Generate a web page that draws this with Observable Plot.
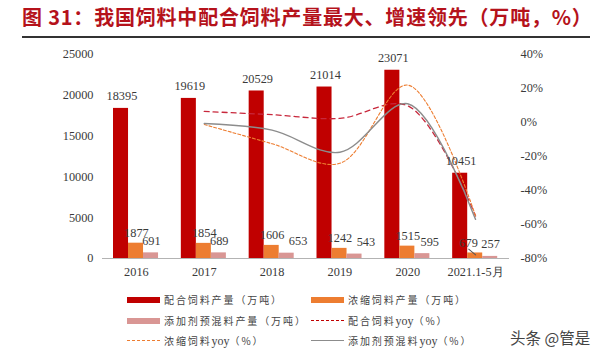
<!DOCTYPE html>
<html><head><meta charset="utf-8">
<script src="https://cdn.jsdelivr.net/npm/d3@7"></script>
<script src="https://cdn.jsdelivr.net/npm/@observablehq/plot@0.6"></script>
<style>
html,body{margin:0;background:#fff;width:600px;height:354px;overflow:hidden}
#title{position:absolute;left:22px;top:4px;font:bold 20px "Noto Sans CJK SC";color:#b5121b;white-space:nowrap;letter-spacing:.8px;line-height:25px}
#rule{position:absolute;left:22px;top:36px;width:568px;height:1.5px;background:#333}
#chart{position:absolute;left:0;top:0;width:600px;height:296px}
.lg{position:absolute;font:10px "Noto Sans CJK SC";color:#444;letter-spacing:1.9px;white-space:nowrap;line-height:14px}
.lg i{font:12px "Liberation Serif";letter-spacing:0}
.sw{position:absolute}
#wm{position:absolute;left:510px;top:327px;font:15.5px "Noto Sans CJK SC";color:#444;white-space:nowrap;line-height:20px}
</style></head><body>
<div id="chart"></div>
<div id="title">图 31：我国饲料中配合饲料产量最大、增速领先（万吨，%）</div>
<div id="rule"></div>
<div id="legend"></div>
<div id="wm">头条 @管是</div>
<script>
const years = ["2016","2017","2018","2019","2020","2021.1-5月"];
const compound = [18395,19619,20529,21014,23071,10451];
const concentrate = [1877,1854,1606,1242,1515,679];
const premix = [691,689,653,543,595,257];
const yoyYears = ["2017","2018","2019","2020","2021.1-5月"];
const compoundYoy = [6.5,4.6,2.4,9.8,-55];
const concentrateYoy = [-1.2,-12.5,-24,22,-55];
const premixYoy = [-0.6,-4.5,-17.5,11,-57];
const leftTicks = [0,5000,10000,15000,20000,25000];
const rightTicks = [-80,-60,-40,-20,0,20,40];
const red="#c00000", orange="#ed7d31", pink="#d99694", grey="#8c8c8c";
const toLeft = v => (v+80)/120*25000;
const rows = years.map((y,i)=>({y,a:compound[i],b:concentrate[i],c:premix[i]}));
const yoyRow = vals => yoyYears.map((y,i)=>({y,v:toLeft(vals[i])}));
const lab = {fontFamily:"Liberation Serif",fontSize:12.3,fill:"#3a3a3a"};
const stick = {draw(ctx,l){ctx.moveTo(0,0);ctx.lineTo(0,-l);}};
const last = years[5];
const plot = Plot.plot({
  width:600,height:296,marginTop:54,marginBottom:38,marginLeft:102,marginRight:91,
  style:{background:"transparent",fontFamily:"Liberation Serif",fontSize:"12.3px",color:"#3a3a3a"},
  x:{type:"band",domain:years,padding:0,round:false,label:null},
  y:{domain:[0,25000],label:null},
  marks:[
    Plot.barY(rows,{x:"y",y:"a",fill:red,insetLeft:11,insetRight:41.8}),
    Plot.barY(rows,{x:"y",y:"b",fill:orange,insetLeft:26,insetRight:26.8}),
    Plot.barY(rows,{x:"y",y:"c",fill:pink,insetLeft:41,insetRight:11.8}),
    Plot.ruleY([0],{stroke:"#b3b3b3",strokeWidth:1.2}),
    Plot.axisY({ticks:leftTicks,tickSize:0,tickPadding:9,tickFormat:d=>String(d),fontSize:12.3,fill:"#3a3a3a",label:null}),
    Plot.axisY({anchor:"right",ticks:rightTicks.map(toLeft),tickSize:0,tickPadding:11,textAnchor:"start",
      tickFormat:d=>Math.round(d/25000*120-80)+"%",fontSize:12.3,fill:"#3a3a3a",label:null}),
    Plot.axisX({tickSize:0,tickPadding:9,fontSize:12.3,fill:"#3a3a3a",label:null}),
    Plot.line(yoyRow(compoundYoy),{x:"y",y:"v",stroke:"#c8283c",strokeWidth:1.3,strokeDasharray:"5 4",curve:"catmull-rom"}),
    Plot.line(yoyRow(concentrateYoy),{x:"y",y:"v",stroke:orange,strokeWidth:1.1,strokeDasharray:"3 2",curve:"catmull-rom"}),
    Plot.line(yoyRow(premixYoy),{x:"y",y:"v",stroke:grey,strokeWidth:1.4,curve:"catmull-rom"}),
    Plot.text(rows,{x:"y",y:"a",text:d=>String(d.a),dx:-14.5,dy:-12,...lab}),
    Plot.text(rows.filter(d=>d.y!==last),{x:"y",y:"b",text:d=>String(d.b),dy:-10,...lab}),
    Plot.text(rows.slice(-1),{x:"y",y:"b",text:d=>String(d.b),dx:-7,dy:-10,...lab}),
    Plot.text(rows.filter(d=>["2016","2017",last].includes(d.y)),{x:"y",y:"c",text:d=>String(d.c),dx:15,dy:-12,...lab}),
    Plot.text(rows.filter(d=>["2018","2019"].includes(d.y)),{x:"y",y:"c",text:d=>String(d.c),dx:26,dy:-12,...lab}),
    Plot.text(rows.filter(d=>d.y==="2020"),{x:"y",y:"c",text:d=>String(d.c),dx:22,dy:-12,...lab}),
    Plot.vector(rows.slice(-1),{x:"y",y:"b",length:9,rotate:-50,anchor:"start",shape:stick,dy:2,stroke:"#555",strokeWidth:1})
  ]
});
document.getElementById("chart").appendChild(plot);
const entries=[
 ["配合饲料产量（万吨）","bar",red,0,0],
 ["浓缩饲料产量（万吨）","bar",orange,1,0],
 ["添加剂预混料产量（万吨）","bar",pink,0,1],
 ["配合饲料<i>yoy</i>（%）","dash",red,1,1],
 ["浓缩饲料<i>yoy</i>（%）","fine",orange,0,2],
 ["添加剂预混料<i>yoy</i>（%）","solid",grey,1,2]
];
const L=document.getElementById("legend");
for(const [t,k,c,col,row] of entries){
  const x=[127,311][col], y=[300,321,341][row];
  const s=document.createElement("div"); s.className="sw";
  s.style.left=x+"px"; s.style.width="33px";
  if(k==="bar"){s.style.top=(y-3)+"px";s.style.height="6px";s.style.background=c;}
  else{s.style.top=(y-1)+"px";s.style.height="0";
    s.style.borderTop=(k==="solid"?"1.3px solid ":k==="dash"?"1.5px dashed ":"1px dashed ")+c;}
  L.appendChild(s);
  const d=document.createElement("div"); d.className="lg"; d.innerHTML=t;
  d.style.left=(x+37)+"px"; d.style.top=(y-7)+"px"; L.appendChild(d);
}
</script></body></html>
